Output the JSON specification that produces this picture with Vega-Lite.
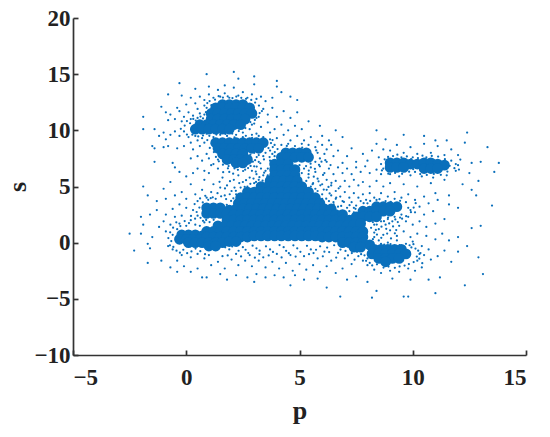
{"$schema":"https://vega.github.io/schema/vega-lite/v6.json","width":453,"height":337,"autosize":{"type":"none"},"padding":{"left":73,"top":18,"right":24,"bottom":82},"background":"white","config":{"view":{"stroke":null}},
"datasets":{"core":[
{"p":1.6,"s":12.3},{"p":1.9,"s":12.3},{"p":2.2,"s":12.3},{"p":2.5,"s":12.3},
{"p":1.3,"s":12},{"p":1.6,"s":12},{"p":1.9,"s":12},{"p":2.2,"s":12},{"p":2.5,"s":12},{"p":2.8,"s":12},
{"p":1.1,"s":11.5},{"p":1.4,"s":11.5},{"p":1.7,"s":11.5},{"p":2,"s":11.5},{"p":2.3,"s":11.5},{"p":2.6,"s":11.5},{"p":2.9,"s":11.5},
{"p":1.1,"s":11},{"p":1.4,"s":11},{"p":1.7,"s":11},{"p":2,"s":11},{"p":2.3,"s":11},{"p":2.6,"s":11},
{"p":0.6,"s":10.5},{"p":0.9,"s":10.5},{"p":1.2,"s":10.5},{"p":1.5,"s":10.5},{"p":1.8,"s":10.5},{"p":2.1,"s":10.5},{"p":2.4,"s":10.5},
{"p":0.4,"s":10.1},{"p":0.7,"s":10.1},{"p":1,"s":10.1},{"p":1.3,"s":10.1},{"p":1.6,"s":10.1},{"p":1.9,"s":10.1},
{"p":1.3,"s":8.9},{"p":1.6,"s":8.9},{"p":1.9,"s":8.9},{"p":2.2,"s":8.9},{"p":2.5,"s":8.9},{"p":2.8,"s":8.9},{"p":3.1,"s":8.9},{"p":3.4,"s":8.9},
{"p":1.4,"s":8.4},{"p":1.7,"s":8.4},{"p":2,"s":8.4},{"p":2.3,"s":8.4},{"p":2.6,"s":8.4},{"p":2.9,"s":8.4},{"p":3.2,"s":8.4},
{"p":1.6,"s":7.9},{"p":1.9,"s":7.9},{"p":2.2,"s":7.9},{"p":2.5,"s":7.9},
{"p":1.8,"s":7.4},{"p":2.1,"s":7.4},{"p":2.4,"s":7.4},{"p":2.7,"s":7.4},{"p":2.2,"s":7.1},{"p":2.5,"s":7.1},
{"p":4.4,"s":8},{"p":4.7,"s":8},{"p":5,"s":8},{"p":5.3,"s":8},{"p":4.2,"s":7.6},{"p":4.5,"s":7.6},{"p":4.8,"s":7.6},{"p":5.1,"s":7.6},{"p":5.4,"s":7.6},
{"p":9,"s":7.1},{"p":9.3,"s":7.1},{"p":9.6,"s":7.1},{"p":9.9,"s":7},{"p":10.2,"s":7},{"p":10.5,"s":7.1},{"p":10.8,"s":7.1},{"p":11.1,"s":7},{"p":11.4,"s":6.9},
{"p":9,"s":6.7},{"p":9.3,"s":6.7},{"p":9.6,"s":6.7},{"p":10.5,"s":6.6},{"p":10.8,"s":6.6},{"p":11.1,"s":6.6},
{"p":3.9,"s":7},{"p":4.2,"s":7},{"p":4.5,"s":7},
{"p":3.9,"s":6.5},{"p":4.2,"s":6.5},{"p":4.5,"s":6.5},{"p":4.8,"s":6.5},
{"p":3.9,"s":6},{"p":4.2,"s":6},{"p":4.5,"s":6},{"p":4.8,"s":6},
{"p":3.7,"s":5.5},{"p":4,"s":5.5},{"p":4.3,"s":5.5},{"p":4.6,"s":5.5},{"p":4.9,"s":5.5},
{"p":3.3,"s":5},{"p":3.6,"s":5},{"p":3.9,"s":5},{"p":4.2,"s":5},{"p":4.5,"s":5},{"p":4.8,"s":5},{"p":5.1,"s":5},
{"p":2.7,"s":4.5},{"p":3,"s":4.5},{"p":3.3,"s":4.5},{"p":3.6,"s":4.5},{"p":3.9,"s":4.5},{"p":4.2,"s":4.5},{"p":4.5,"s":4.5},{"p":4.8,"s":4.5},{"p":5.1,"s":4.5},{"p":5.4,"s":4.5},
{"p":2.4,"s":4},{"p":2.7,"s":4},{"p":3,"s":4},{"p":3.3,"s":4},{"p":3.6,"s":4},{"p":3.9,"s":4},{"p":4.2,"s":4},{"p":4.5,"s":4},{"p":4.8,"s":4},{"p":5.1,"s":4},{"p":5.4,"s":4},{"p":5.7,"s":4},
{"p":2.3,"s":3.5},{"p":2.6,"s":3.5},{"p":2.9,"s":3.5},{"p":3.2,"s":3.5},{"p":3.5,"s":3.5},{"p":3.8,"s":3.5},{"p":4.1,"s":3.5},{"p":4.4,"s":3.5},{"p":4.7,"s":3.5},{"p":5,"s":3.5},{"p":5.3,"s":3.5},{"p":5.6,"s":3.5},{"p":5.9,"s":3.5},
{"p":0.9,"s":3.1},{"p":1.2,"s":3.1},{"p":1.5,"s":3.1},{"p":1.9,"s":2.9},{"p":2.2,"s":3},{"p":2.5,"s":3},{"p":2.8,"s":3},{"p":3.1,"s":3},{"p":3.4,"s":3},{"p":3.7,"s":3},{"p":4,"s":3},{"p":4.3,"s":3},{"p":4.6,"s":3},{"p":4.9,"s":3},{"p":5.2,"s":3},{"p":5.5,"s":3},{"p":5.8,"s":3},{"p":6.1,"s":3},{"p":6.4,"s":3},{"p":8.4,"s":3.2},{"p":8.7,"s":3.2},{"p":9,"s":3.2},{"p":9.3,"s":3.2},
{"p":0.9,"s":2.6},{"p":1.2,"s":2.6},{"p":1.5,"s":2.6},{"p":1.8,"s":2.6},{"p":2.1,"s":2.5},{"p":2.4,"s":2.5},{"p":2.7,"s":2.5},{"p":3,"s":2.5},{"p":3.3,"s":2.5},{"p":3.6,"s":2.5},{"p":3.9,"s":2.5},{"p":4.2,"s":2.5},{"p":4.5,"s":2.5},{"p":4.8,"s":2.5},{"p":5.1,"s":2.5},{"p":5.4,"s":2.5},{"p":5.7,"s":2.5},{"p":6,"s":2.5},{"p":6.3,"s":2.5},{"p":6.6,"s":2.5},{"p":6.9,"s":2.5},{"p":7.8,"s":2.8},{"p":8.1,"s":2.8},{"p":8.4,"s":2.8},{"p":8.7,"s":2.8},{"p":9,"s":2.8},
{"p":1.8,"s":2},{"p":2.1,"s":2},{"p":2.4,"s":2},{"p":2.7,"s":2},{"p":3,"s":2},{"p":3.3,"s":2},{"p":3.6,"s":2},{"p":3.9,"s":2},{"p":4.2,"s":2},{"p":4.5,"s":2},{"p":4.8,"s":2},{"p":5.1,"s":2},{"p":5.4,"s":2},{"p":5.7,"s":2},{"p":6,"s":2},{"p":6.3,"s":2},{"p":6.6,"s":2},{"p":6.9,"s":2},{"p":7.2,"s":2},{"p":7.5,"s":2.3},{"p":7.8,"s":2.3},{"p":8.1,"s":2.3},{"p":8.4,"s":2.3},
{"p":1.4,"s":1.5},{"p":1.7,"s":1.5},{"p":2,"s":1.5},{"p":2.3,"s":1.5},{"p":2.6,"s":1.5},{"p":2.9,"s":1.5},{"p":3.2,"s":1.5},{"p":3.5,"s":1.5},{"p":3.8,"s":1.5},{"p":4.1,"s":1.5},{"p":4.4,"s":1.5},{"p":4.7,"s":1.5},{"p":5,"s":1.5},{"p":5.3,"s":1.5},{"p":5.6,"s":1.5},{"p":5.9,"s":1.5},{"p":6.2,"s":1.5},{"p":6.5,"s":1.5},{"p":6.8,"s":1.5},{"p":7.1,"s":1.5},{"p":7.4,"s":1.6},{"p":7.7,"s":1.7},
{"p":0.9,"s":1},{"p":1.2,"s":1},{"p":1.5,"s":1},{"p":1.8,"s":1},{"p":2.1,"s":1},{"p":2.4,"s":1},{"p":2.7,"s":1},{"p":3,"s":1},{"p":3.3,"s":1},{"p":3.6,"s":1},{"p":3.9,"s":1},{"p":4.2,"s":1},{"p":4.5,"s":1},{"p":4.8,"s":1},{"p":5.1,"s":1},{"p":5.4,"s":1},{"p":5.7,"s":1},{"p":6,"s":1},{"p":6.3,"s":1},{"p":6.6,"s":1},{"p":6.9,"s":1},{"p":7.2,"s":1},{"p":7.5,"s":1},{"p":7.8,"s":1},
{"p":-0.2,"s":0.7},{"p":0.1,"s":0.7},{"p":0.4,"s":0.7},{"p":0.7,"s":0.6},
{"p":-0.3,"s":0.3},{"p":0,"s":0.3},{"p":0.3,"s":0.3},{"p":0.6,"s":0.3},{"p":0.9,"s":0.5},{"p":1.2,"s":0.5},{"p":1.5,"s":0.5},{"p":1.8,"s":0.5},{"p":2.1,"s":0.5},{"p":2.4,"s":0.5},{"p":2.7,"s":0.5},{"p":3,"s":0.6},{"p":3.3,"s":0.6},{"p":3.6,"s":0.6},{"p":3.9,"s":0.6},{"p":4.2,"s":0.6},{"p":4.5,"s":0.6},{"p":4.8,"s":0.6},{"p":5.1,"s":0.6},{"p":5.4,"s":0.6},{"p":5.7,"s":0.6},{"p":6,"s":0.5},{"p":6.3,"s":0.5},{"p":6.6,"s":0.5},{"p":6.9,"s":0.5},{"p":7.2,"s":0.5},{"p":7.5,"s":0.5},{"p":7.8,"s":0.5},
{"p":0.1,"s":0},{"p":0.4,"s":0},{"p":0.7,"s":0},{"p":1,"s":0},{"p":1.3,"s":0},{"p":1.6,"s":0},{"p":1.9,"s":0.1},{"p":2.2,"s":0.1},{"p":6.9,"s":0},{"p":7.2,"s":0},{"p":7.5,"s":0},{"p":7.8,"s":0},{"p":8.1,"s":-0.2},
{"p":1,"s":-0.3},{"p":1.3,"s":-0.3},{"p":7.4,"s":-0.4},{"p":7.7,"s":-0.4},{"p":8.3,"s":-0.6},{"p":8.6,"s":-0.6},{"p":8.9,"s":-0.6},{"p":9.2,"s":-0.6},{"p":9.5,"s":-0.6},
{"p":8.2,"s":-1},{"p":8.5,"s":-1},{"p":8.8,"s":-1},{"p":9.1,"s":-1},{"p":9.4,"s":-1},{"p":9.7,"s":-1},{"p":8.5,"s":-1.4},{"p":8.8,"s":-1.4},{"p":9.1,"s":-1.4},{"p":9.4,"s":-1.4},{"p":8.8,"s":-1.7}
],"scatter":[
{"p":-1.9,"s":11.2},{"p":-1.9,"s":10.1},{"p":-1.4,"s":10.1},{"p":-1.1,"s":12.1},{"p":-0.9,"s":11.6},{"p":-0.8,"s":10.9},{"p":-0.7,"s":11.4},{"p":-0.5,"s":11},{"p":-0.4,"s":12},{"p":-0.3,"s":11.7},{"p":-0.2,"s":10.8},{"p":-0.1,"s":11.2},{"p":0,"s":12.3},{"p":0.1,"s":11.6},{"p":0.2,"s":12.9},{"p":0.3,"s":11.3},{"p":0.4,"s":12.4},{"p":0.5,"s":11.9},{"p":0.6,"s":13},{"p":0.6,"s":11.5},
{"p":-1.2,"s":9.5},{"p":-1,"s":9.8},{"p":-0.9,"s":9.2},{"p":-0.7,"s":9.6},{"p":-0.5,"s":9.9},{"p":-0.3,"s":9.5},{"p":-0.1,"s":9.9},{"p":0.1,"s":9.4},{"p":0.2,"s":8.9},{"p":0.4,"s":9.5},{"p":0.5,"s":9.1},{"p":0.7,"s":9.3},{"p":-1.5,"s":8.6},{"p":-1.4,"s":8.4},{"p":-1,"s":8.5},{"p":-0.8,"s":8.6},{"p":-0.4,"s":8.4},{"p":-0.1,"s":8.6},{"p":0.3,"s":8.3},{"p":0.6,"s":8.6},{"p":0.8,"s":8.9},{"p":-1.4,"s":7.2},{"p":-0.6,"s":7.1},{"p":-0.5,"s":6.7},{"p":0.2,"s":7.5},{"p":0.5,"s":7.7},{"p":0.7,"s":7.3},{"p":0.9,"s":7.9},{"p":1,"s":7.5},{"p":1.1,"s":6.9},
{"p":0.8,"s":12.7},{"p":1,"s":13.2},{"p":1.2,"s":12.9},{"p":1.4,"s":13.6},{"p":1.5,"s":13},{"p":1.7,"s":13.3},{"p":1.9,"s":12.9},{"p":2.1,"s":13.8},{"p":2.3,"s":13.1},{"p":2.5,"s":13.4},{"p":2.7,"s":12.9},{"p":2.9,"s":13.2},{"p":3.1,"s":12.8},{"p":3.3,"s":13},{"p":3.5,"s":12.6},{"p":3.8,"s":12.9},{"p":4.2,"s":13.4},{"p":4.6,"s":13},{"p":4.9,"s":12.7},{"p":0.4,"s":13.7},{"p":0.9,"s":15},{"p":1,"s":13.9},{"p":1.7,"s":14},{"p":2.1,"s":15.2},{"p":2.3,"s":14.6},{"p":3,"s":14.8},{"p":3,"s":14.1},{"p":4,"s":14.4},{"p":4,"s":13.9},{"p":-0.3,"s":14.2},{"p":-0.8,"s":13.2},{"p":-0.2,"s":13.1},
{"p":3.2,"s":11.2},{"p":3.4,"s":11.9},{"p":3.6,"s":11.4},{"p":3.8,"s":12},{"p":4,"s":11.2},{"p":4.3,"s":11.7},{"p":4.6,"s":11.1},{"p":4.9,"s":11.6},{"p":3,"s":10.6},{"p":3.3,"s":10.3},{"p":3.6,"s":10.7},{"p":3.9,"s":10.1},{"p":4.2,"s":10.5},{"p":4.5,"s":10},{"p":4.8,"s":10.4},{"p":5.1,"s":10.1},{"p":5.4,"s":10.8},{"p":2.8,"s":10.1},{"p":2.5,"s":9.8},{"p":3.1,"s":9.7},{"p":3.4,"s":9.4},{"p":3.7,"s":9.8},{"p":4,"s":9.3},{"p":4.3,"s":9.6},{"p":4.6,"s":9.1},{"p":4.9,"s":9.5},{"p":5.2,"s":9.1},{"p":5.5,"s":9.4},{"p":5.8,"s":9},{"p":6,"s":9.5},{"p":6.3,"s":9.1},{"p":6.6,"s":10},{"p":5.9,"s":10.4},{"p":6.9,"s":9.4},{"p":3.9,"s":8.7},{"p":4.2,"s":8.7},{"p":4.5,"s":8.8},{"p":4.8,"s":8.6},{"p":5.1,"s":8.8},{"p":5.4,"s":8.7},{"p":5.7,"s":8.5},{"p":6,"s":8.7},{"p":6.2,"s":8.3},{"p":6.4,"s":8.7},
{"p":5.9,"s":7.5},{"p":6.1,"s":7.9},{"p":6.2,"s":7.2},{"p":6.5,"s":7.7},{"p":6.7,"s":8.2},{"p":6.9,"s":7.1},{"p":7.1,"s":7.7},{"p":7.3,"s":8.4},{"p":7.5,"s":7.2},{"p":7.8,"s":7.9},{"p":8,"s":7.3},{"p":8.2,"s":8.2},{"p":8.5,"s":7.6},{"p":8.7,"s":8.3},{"p":5.5,"s":6.7},{"p":5.7,"s":6.3},{"p":5.9,"s":6.8},{"p":6.1,"s":6.2},{"p":6.3,"s":6.6},{"p":6.5,"s":6.1},{"p":6.7,"s":6.7},{"p":6.9,"s":6.2},{"p":7.1,"s":6.6},{"p":7.3,"s":6.1},{"p":7.5,"s":6.7},{"p":7.7,"s":6.3},{"p":7.9,"s":6.8},{"p":8.1,"s":6.2},{"p":8.4,"s":6.5},{"p":8.6,"s":6.1},{"p":5.4,"s":5.8},{"p":5.6,"s":5.3},{"p":5.8,"s":5.7},{"p":6,"s":5.2},{"p":6.2,"s":5.6},{"p":6.4,"s":5.1},{"p":6.6,"s":5.5},{"p":6.8,"s":5},{"p":7,"s":5.5},{"p":7.2,"s":5},{"p":7.4,"s":5.6},{"p":7.6,"s":5.1},{"p":7.8,"s":5.4},{"p":8.1,"s":5},{"p":8.4,"s":5.5},{"p":8.7,"s":5},{"p":9,"s":5.3},{"p":5.8,"s":4.6},{"p":6,"s":4.3},{"p":6.2,"s":4.7},{"p":6.4,"s":4.2},{"p":6.6,"s":4.6},{"p":6.8,"s":4.1},{"p":7,"s":4.5},{"p":7.2,"s":4},{"p":7.4,"s":4.4},{"p":7.6,"s":4},{"p":7.8,"s":4.3},{"p":8.1,"s":4.4},{"p":8.3,"s":4},{"p":8.6,"s":4.4},{"p":8.9,"s":4.1},{"p":9.2,"s":4.5},{"p":9.5,"s":4},{"p":9.8,"s":4.3},{"p":6.5,"s":3.6},{"p":6.7,"s":3.2},{"p":6.9,"s":3.7},{"p":7.1,"s":3.1},{"p":7.3,"s":3.6},{"p":7.5,"s":3.3},{"p":7.7,"s":3.7},{"p":8,"s":3.5},
{"p":8.4,"s":8.8},{"p":9,"s":8.2},{"p":9.3,"s":8.7},{"p":9.6,"s":8},{"p":9.9,"s":8.5},{"p":10.2,"s":7.9},{"p":10.5,"s":8.8},{"p":10.8,"s":8},{"p":11.1,"s":8.6},{"p":11.4,"s":7.8},{"p":11.7,"s":8.3},{"p":12,"s":7.8},{"p":12.3,"s":8.9},{"p":9.6,"s":9.6},{"p":10.5,"s":9.5},{"p":11,"s":9.1},{"p":8.4,"s":10},{"p":8.8,"s":9.2},{"p":12.4,"s":9.8},{"p":11.5,"s":9.1},{"p":13.3,"s":8.5},{"p":12.1,"s":7.4},{"p":12.6,"s":7.1},{"p":13,"s":7.2},{"p":13.8,"s":7.1},{"p":13.6,"s":6.3},{"p":12.5,"s":6.2},{"p":11.9,"s":6.4},{"p":11.5,"s":6},{"p":10.9,"s":5.8},{"p":10.4,"s":5.9},{"p":9.9,"s":6},{"p":9.4,"s":5.9},{"p":9,"s":6.1},{"p":9.6,"s":5.2},{"p":10.2,"s":5},{"p":10.8,"s":5.3},{"p":11.4,"s":5.6},{"p":12.2,"s":5.2},{"p":12.9,"s":5.5},{"p":12.6,"s":4.7},{"p":12.8,"s":4.2},{"p":13.5,"s":3.3},{"p":11.6,"s":4.2},{"p":11,"s":4.4},{"p":10.5,"s":4.1},{"p":10.1,"s":3.8},{"p":10.3,"s":3.2},{"p":10.7,"s":3.5},{"p":11.1,"s":3.8},{"p":11.6,"s":3.4},{"p":12,"s":3.1},{"p":10.9,"s":2.8},{"p":10.5,"s":2.5},{"p":10.1,"s":2.7},{"p":9.8,"s":2.3},{"p":9.5,"s":2.5},{"p":9.2,"s":2.3},{"p":8.9,"s":2.1},{"p":8.6,"s":1.9},{"p":8.3,"s":1.6},{"p":8.5,"s":1.2},{"p":8.8,"s":1.6},{"p":9.1,"s":1.9},{"p":9.4,"s":1.5},{"p":9.7,"s":1.9},{"p":10,"s":1.6},{"p":10.3,"s":1.9},{"p":10.6,"s":1.4},{"p":11,"s":1.7},{"p":11.4,"s":2.1},{"p":8.3,"s":0.9},{"p":8.7,"s":0.7},{"p":9,"s":1.1},{"p":9.3,"s":0.6},{"p":9.6,"s":1},{"p":9.9,"s":0.5},{"p":10.2,"s":0.8},{"p":10.6,"s":0.6},{"p":11,"s":0.3},{"p":11.3,"s":0.8},{"p":11.6,"s":0.2},{"p":12,"s":0.5},{"p":12.6,"s":1.3},{"p":13,"s":1.5},{"p":8.5,"s":0.2},{"p":8.9,"s":0},{"p":9.3,"s":0.2},{"p":9.7,"s":-0.1},{"p":10,"s":0.1},{"p":10.4,"s":-0.3},{"p":10.7,"s":-0.6},{"p":10.5,"s":-1.1},{"p":10.8,"s":-1.5},{"p":11.1,"s":-1.2},{"p":11.4,"s":-0.7},{"p":11.7,"s":-1.7},{"p":12,"s":-0.8},{"p":12.4,"s":-0.3},{"p":12.9,"s":-1.3},{"p":13.1,"s":-2.8},{"p":11.2,"s":-3.1},{"p":12.3,"s":-3.8},{"p":10.4,"s":-2.2},{"p":10.1,"s":-2.5},{"p":9.8,"s":-2.3},{"p":9.4,"s":-2.6},{"p":9,"s":-2.5},{"p":8.6,"s":-2.7},{"p":8.3,"s":-2.4},{"p":8,"s":-2},{"p":7.8,"s":-1.6},{"p":7.6,"s":-1.2},{"p":7.3,"s":-1.9},{"p":7,"s":-1.4},{"p":6.7,"s":-0.9},{"p":6.4,"s":-1.6},{"p":6.1,"s":-0.8},{"p":5.8,"s":-1.4},{"p":5.5,"s":-0.6},{"p":5.2,"s":-1.2},{"p":4.9,"s":-0.5},{"p":4.6,"s":-1.1},{"p":4.3,"s":-0.4},{"p":4,"s":-1},{"p":3.7,"s":-0.6},{"p":3.4,"s":-1.3},{"p":3.1,"s":-0.5},{"p":2.8,"s":-1.1},{"p":2.5,"s":-0.4},{"p":2.2,"s":-1},{"p":1.9,"s":-0.6},{"p":1.6,"s":-1.2},{"p":6.9,"s":-2.3},{"p":6.6,"s":-2.7},{"p":6.2,"s":-2.1},{"p":5.9,"s":-2.6},{"p":5.6,"s":-2},{"p":5.3,"s":-2.4},{"p":5,"s":-1.9},{"p":4.7,"s":-2.5},{"p":4.4,"s":-1.8},{"p":4.1,"s":-2.3},{"p":3.8,"s":-1.7},{"p":3.5,"s":-2.2},{"p":3.2,"s":-1.6},{"p":2.9,"s":-2.1},{"p":2.6,"s":-1.6},{"p":2.3,"s":-2},{"p":2,"s":-1.5},{"p":1.7,"s":-2.3},{"p":1.4,"s":-1.7},{"p":1.1,"s":-2},{"p":0.8,"s":-1.4},{"p":0.5,"s":-2.3},{"p":0.2,"s":-1.3},{"p":-0.1,"s":-2.1},{"p":-0.4,"s":-1.6},{"p":-0.7,"s":-2.2},{"p":-0.2,"s":-1.1},{"p":0.5,"s":-1},{"p":1,"s":-1.1},
{"p":7.5,"s":-3},{"p":7.1,"s":-3.3},{"p":6.8,"s":-4.8},{"p":8.2,"s":-4.9},{"p":8.4,"s":-4.3},{"p":9.6,"s":-4.8},{"p":9.8,"s":-4.8},{"p":11,"s":-4.5},{"p":9.1,"s":-3.2},{"p":8,"s":-3.5},{"p":6.2,"s":-4},{"p":5.8,"s":-3.2},{"p":5.2,"s":-3.3},{"p":4.8,"s":-2.9},{"p":4.3,"s":-3.1},{"p":3.9,"s":-2.9},{"p":3.5,"s":-3.1},{"p":3.1,"s":-2.8},{"p":2.7,"s":-3.1},{"p":2.2,"s":-2.9},{"p":1.8,"s":-3.3},{"p":1.5,"s":-2.8},{"p":0.7,"s":-3.1},{"p":0.9,"s":-3.1},{"p":0.2,"s":-2.6},{"p":-0.4,"s":-2.6},{"p":4.6,"s":-3.8},{"p":3,"s":-3.5},{"p":9.9,"s":-3.3},{"p":10.7,"s":-3.3},
{"p":-2.5,"s":0.8},{"p":-2.3,"s":-0.7},{"p":-2,"s":2.3},{"p":-1.9,"s":1.6},{"p":-2,"s":0.8},{"p":-1.6,"s":2.5},{"p":-1.7,"s":-0.1},{"p":-1.6,"s":-0.5},{"p":-1.7,"s":-1.8},{"p":-1.5,"s":0.5},{"p":-1.3,"s":2.9},{"p":-1.2,"s":1.4},{"p":-1.1,"s":-1.6},{"p":-1,"s":1.9},{"p":-0.9,"s":1},{"p":-0.8,"s":-0.3},{"p":-0.9,"s":2.5},{"p":-0.7,"s":1.6},{"p":-0.6,"s":0.7},{"p":-0.6,"s":-0.6},{"p":-0.5,"s":2.3},{"p":-0.4,"s":1.2},{"p":-0.3,"s":1.7},{"p":-0.2,"s":2.4},{"p":0,"s":1.5},{"p":0.2,"s":2},{"p":0.4,"s":1.6},{"p":0.5,"s":2.4},{"p":0.6,"s":1.5},{"p":0.8,"s":1.8},{"p":0.3,"s":2.9},{"p":0,"s":3.1},{"p":-0.3,"s":3.4},{"p":-0.6,"s":3},{"p":-0.9,"s":3.9},{"p":-1.3,"s":3.7},{"p":-1.7,"s":4.2},{"p":-1.9,"s":5},{"p":-1,"s":4.8},{"p":-0.7,"s":5.4},{"p":-0.5,"s":4.2},{"p":-0.2,"s":4.5},{"p":0,"s":3.9},{"p":0.2,"s":5.2},{"p":0.4,"s":4.3},{"p":0.5,"s":3.7},{"p":0.7,"s":4.7},{"p":0.8,"s":5.6},{"p":0.9,"s":4},{"p":1,"s":6.2},{"p":1.1,"s":4.5},{"p":1.2,"s":5.2},{"p":1.3,"s":3.9},{"p":1.4,"s":6.6},{"p":1.5,"s":4.9},{"p":1.6,"s":5.8},{"p":1.7,"s":4.2},{"p":1.8,"s":5.1},{"p":1.9,"s":6.3},{"p":2,"s":4.6},{"p":2.1,"s":5.6},{"p":2.2,"s":4.3},{"p":2.3,"s":6},{"p":2.4,"s":4.9},{"p":2.5,"s":5.4},{"p":2.6,"s":6.5},{"p":2.7,"s":5},{"p":2.8,"s":5.8},{"p":2.9,"s":6.4},{"p":3,"s":5.3},{"p":3.1,"s":6.1},{"p":3.2,"s":5.6},{"p":3.3,"s":6.6},{"p":3.4,"s":6},{"p":3.5,"s":6.4},{"p":3.6,"s":6},{"p":3.2,"s":7.2},{"p":3.4,"s":7.7},{"p":3.7,"s":7.3},{"p":3.9,"s":7.7},{"p":3,"s":6.8},{"p":0.3,"s":6.2},{"p":0,"s":5.9},{"p":-0.3,"s":6.3},{"p":0.5,"s":6.6},{"p":0.8,"s":6.4},{"p":1.2,"s":7},{"p":1.4,"s":7.4},
{"p":0.9,"s":9.7},{"p":1.2,"s":9.4},{"p":1.5,"s":9.6},{"p":1.8,"s":9.5},{"p":2.2,"s":9.6},{"p":2.5,"s":9.4},{"p":2.9,"s":9.6},{"p":3.2,"s":9.5},{"p":3.7,"s":9.2},{"p":2.9,"s":10.5},{"p":3.1,"s":11.1},{"p":0.2,"s":11},{"p":0.5,"s":11.1},{"p":0.8,"s":11.4},{"p":0.9,"s":12},{"p":0.8,"s":12.2},{"p":3,"s":8},{"p":3.2,"s":7.8},{"p":3.5,"s":8},{"p":3.7,"s":8.2},{"p":3.8,"s":7.9},{"p":5.7,"s":7.2},{"p":5.8,"s":8},{"p":3.6,"s":6.6},{"p":5,"s":6.9},{"p":5.2,"s":6.6},{"p":5.1,"s":6.2},{"p":5.4,"s":6.1},{"p":5.3,"s":5.5},{"p":5.5,"s":5},{"p":5.7,"s":4.8},{"p":6,"s":3.9},{"p":6.3,"s":3.7},{"p":6.6,"s":3.9},{"p":9.8,"s":3.1},{"p":9.9,"s":2.9},{"p":9.7,"s":3.6},{"p":9.2,"s":3.9},{"p":8.8,"s":3.7},{"p":8.4,"s":3.8},{"p":7.4,"s":3.1},{"p":7.2,"s":2.8},{"p":7.4,"s":2.7},{"p":8.3,"s":0.5},{"p":8.6,"s":-0.1},{"p":10.3,"s":-1},{"p":10.2,"s":-1.6},{"p":8,"s":-1.4},{"p":8.1,"s":-1.8},{"p":10.1,"s":6.3},{"p":8.7,"s":6.6},{"p":8.6,"s":7},{"p":12,"s":6.9},{"p":11.9,"s":7},{"p":11.7,"s":7.3},{"p":10,"s":7.6},{"p":10.6,"s":7.6},{"p":9.5,"s":7.6},
{"p":5.63,"s":5.87},{"p":5.41,"s":6.42},{"p":5.92,"s":5.11},{"p":6.07,"s":4.73},{"p":6.33,"s":4.38},{"p":5.77,"s":4.21},{"p":6.18,"s":3.92},{"p":6.51,"s":3.41},{"p":6.84,"s":3.27},{"p":6.62,"s":4.02},{"p":6.96,"s":3.63},{"p":7.21,"s":3.34},{"p":7.47,"s":3.01},{"p":5.58,"s":5.21},{"p":5.84,"s":5.46},{"p":5.29,"s":6.82},{"p":5.68,"s":6.57},{"p":6.04,"s":6.03},{"p":6.41,"s":5.33},{"p":6.73,"s":4.84},{"p":6.28,"s":4.96},{"p":5.49,"s":7.03},{"p":5.86,"s":6.93},{"p":6.14,"s":7.34},{"p":6.37,"s":6.91},{"p":5.97,"s":7.21},{"p":5.74,"s":8.21},{"p":5.12,"s":8.47},{"p":4.44,"s":8.61},{"p":4.03,"s":8.33},{"p":3.91,"s":8.07},{"p":3.82,"s":8.51},{"p":3.68,"s":7.62},{"p":3.43,"s":7.41},{"p":3.27,"s":7.07},{"p":3.11,"s":6.77},{"p":2.94,"s":7.21},{"p":2.73,"s":6.64},{"p":2.51,"s":6.38},{"p":2.28,"s":6.49},{"p":2.07,"s":6.14},{"p":1.84,"s":6.62},{"p":1.63,"s":6.27},{"p":1.47,"s":5.42},{"p":1.71,"s":4.83},{"p":1.93,"s":5.47},{"p":2.13,"s":4.91},{"p":2.34,"s":5.31},{"p":2.58,"s":4.97},{"p":2.64,"s":5.56},{"p":2.83,"s":5.24},{"p":2.97,"s":5.71},{"p":3.08,"s":5.41},{"p":3.23,"s":5.83},{"p":3.37,"s":5.52},{"p":3.44,"s":6.23},{"p":3.58,"s":5.87},{"p":3.07,"s":6.33},{"p":1.17,"s":4.04},{"p":1.38,"s":4.41},{"p":1.54,"s":4.13},{"p":1.76,"s":3.88},{"p":1.92,"s":4.31},{"p":2.08,"s":3.95},{"p":2.19,"s":4.62},{"p":1.98,"s":3.71},{"p":0.61,"s":3.94},{"p":0.73,"s":3.58},{"p":0.84,"s":4.17},{"p":0.97,"s":3.81},{"p":1.08,"s":3.96},{"p":1.79,"s":3.37},{"p":1.94,"s":3.23},{"p":2.02,"s":2.94},{"p":0.37,"s":3.44},{"p":0.46,"s":2.73},{"p":0.58,"s":3.12},{"p":0.21,"s":2.38},{"p":0.39,"s":2.14},{"p":0.63,"s":2.21},{"p":0.74,"s":1.94},{"p":0.88,"s":2.02},{"p":1.03,"s":1.83},{"p":1.21,"s":2.03},{"p":0.12,"s":1.74},{"p":-0.07,"s":1.92},{"p":-0.26,"s":1.48},{"p":-0.44,"s":1.81},{"p":-0.58,"s":1.33},{"p":-0.71,"s":0.92},{"p":-0.79,"s":0.41},{"p":-0.66,"s":0.14},{"p":-0.72,"s":-0.24},{"p":-0.57,"s":-0.38},{"p":-0.43,"s":-0.71},{"p":-0.28,"s":-0.89},{"p":-0.13,"s":-0.63},{"p":0.04,"s":-0.94},{"p":0.23,"s":-0.78},{"p":0.41,"s":-0.53},{"p":0.62,"s":-0.76},{"p":0.83,"s":-1.03},
{"p":1.72,"s":-0.41},{"p":2.03,"s":-0.34},{"p":2.31,"s":-0.72},{"p":2.62,"s":-0.63},{"p":2.93,"s":-0.27},{"p":3.24,"s":-0.71},{"p":3.52,"s":-0.33},{"p":3.83,"s":-0.82},{"p":4.12,"s":-0.21},{"p":4.41,"s":-0.73},{"p":4.73,"s":-0.24},{"p":5.04,"s":-0.81},{"p":5.33,"s":-0.28},{"p":5.62,"s":-0.93},{"p":5.91,"s":-0.32},{"p":6.22,"s":-0.44},{"p":6.53,"s":-0.23},{"p":6.81,"s":-0.61},{"p":7.03,"s":-0.74},{"p":7.31,"s":-0.93},{"p":7.54,"s":-0.81},{"p":7.72,"s":-1.03},{"p":1.83,"s":-1.14},{"p":2.42,"s":-1.23},{"p":2.74,"s":-0.92},{"p":3.03,"s":-1.34},{"p":3.64,"s":-1.14},{"p":4.21,"s":-1.31},{"p":4.83,"s":-1.24},{"p":5.42,"s":-1.03},{"p":6.03,"s":-1.21},{"p":6.62,"s":-1.33},{"p":7.14,"s":-1.14},{"p":7.43,"s":-1.52},{"p":3.23,"s":-1.01},{"p":4.53,"s":-0.94},{"p":5.73,"s":-0.63},{"p":6.31,"s":-0.84},
{"p":8.02,"s":2.04},{"p":8.24,"s":1.83},{"p":8.41,"s":1.61},{"p":8.16,"s":1.32},{"p":8.37,"s":1.13},{"p":8.62,"s":1.42},{"p":8.83,"s":1.23},{"p":8.96,"s":1.71},{"p":9.13,"s":1.44},{"p":9.27,"s":1.12},{"p":9.34,"s":1.83},{"p":8.42,"s":0.72},{"p":8.61,"s":0.43},{"p":8.87,"s":0.81},{"p":9.04,"s":0.38},{"p":9.21,"s":0.83},{"p":8.24,"s":0.31},{"p":8.73,"s":1.91},{"p":9.53,"s":2.14},{"p":9.71,"s":2.36},{"p":9.23,"s":2.07},{"p":8.91,"s":2.24},{"p":9.44,"s":2.23},{"p":9.92,"s":2.71},{"p":10.04,"s":3.12},{"p":10.13,"s":3.51},{"p":7.83,"s":3.52},{"p":8.12,"s":3.71},{"p":7.94,"s":3.81},{"p":8.53,"s":3.87},{"p":9.03,"s":3.63},{"p":9.44,"s":3.73},
{"p":9.86,"s":-0.23},{"p":9.94,"s":-0.42},{"p":10.12,"s":-0.53},{"p":10.24,"s":-0.71},{"p":10.34,"s":-0.92},{"p":10.18,"s":-1.24},{"p":10.29,"s":-1.43},{"p":10.04,"s":-1.73},{"p":9.83,"s":-1.91},{"p":9.64,"s":-2.04},{"p":9.42,"s":-2.12},{"p":9.21,"s":-2.24},{"p":8.93,"s":-2.13},{"p":8.71,"s":-2.22},{"p":8.42,"s":-1.93},{"p":8.21,"s":-2.03},{"p":7.94,"s":-1.62},{"p":7.87,"s":-1.13},{"p":9.02,"s":-0.14},{"p":9.42,"s":-0.21},{"p":8.74,"s":-0.18},{"p":10.03,"s":-0.13},{"p":10.42,"s":-1.83},
{"p":8.76,"s":7.42},{"p":8.91,"s":7.63},{"p":9.13,"s":7.71},{"p":9.32,"s":7.83},{"p":9.74,"s":7.68},{"p":9.93,"s":7.44},{"p":10.23,"s":7.53},{"p":10.43,"s":7.74},{"p":10.84,"s":7.72},{"p":11.12,"s":7.66},{"p":11.42,"s":7.43},{"p":11.63,"s":6.84},{"p":11.84,"s":6.63},{"p":12.04,"s":6.51},{"p":8.64,"s":6.43},{"p":8.92,"s":6.14},{"p":9.22,"s":6.21},{"p":9.53,"s":6.13},{"p":9.84,"s":6.32},{"p":10.02,"s":6.54},{"p":10.33,"s":6.11},{"p":10.62,"s":6.03},{"p":10.93,"s":6.12},{"p":11.24,"s":6.04},{"p":11.53,"s":6.33},
{"p":-0.07,"s":10.42},{"p":-0.24,"s":10.14},{"p":0.03,"s":10.83},{"p":0.17,"s":10.63},{"p":0.31,"s":11.02},{"p":0.42,"s":10.87},{"p":0.63,"s":11.23},{"p":0.74,"s":11.06},{"p":0.87,"s":11.62},{"p":0.93,"s":12.43},{"p":1.03,"s":12.61},{"p":1.11,"s":12.24},{"p":1.27,"s":12.73},{"p":1.43,"s":13.04},{"p":1.62,"s":12.92},{"p":1.83,"s":13.03},{"p":2.04,"s":12.87},{"p":2.21,"s":13.01},{"p":2.43,"s":12.89},{"p":2.64,"s":12.81},{"p":2.87,"s":12.71},{"p":3.04,"s":12.47},{"p":3.21,"s":12.21},{"p":3.34,"s":11.71},{"p":3.24,"s":11.54},{"p":3.03,"s":10.93},{"p":2.83,"s":10.74},{"p":2.61,"s":10.2},{"p":2.32,"s":9.93},{"p":2.03,"s":9.71},{"p":1.73,"s":9.68},{"p":1.33,"s":9.62},{"p":1.02,"s":9.51},{"p":0.74,"s":9.54},{"p":0.53,"s":9.46},{"p":0.27,"s":9.61},{"p":0.03,"s":9.62},{"p":0.93,"s":9.13},{"p":1.12,"s":8.82},{"p":1.04,"s":8.43},{"p":1.22,"s":8.07},{"p":1.31,"s":7.63},{"p":1.44,"s":7.24},{"p":1.62,"s":6.94},{"p":1.87,"s":6.82},{"p":2.13,"s":6.61},{"p":2.84,"s":6.83},{"p":3.04,"s":7.34},{"p":3.11,"s":7.62},{"p":2.83,"s":7.83},{"p":3.63,"s":8.42},{"p":3.74,"s":8.87},{"p":3.81,"s":9.13},{"p":3.43,"s":9.21},{"p":2.91,"s":9.33},{"p":2.63,"s":9.51},{"p":2.13,"s":9.37}
]},
"layer":[
{"data":{"name":"scatter"},"mark":{"type":"circle","size":5,"opacity":1,"color":"#0a6fbb"},"encoding":{"x":{"field":"p","type":"quantitative","scale":{"domain":[-5,15],"nice":false},"axis":{"values":[-5,0,5,10,15],"title":"p","grid":false,"domainColor":"#333","domainWidth":1.7,"tickColor":"#333","tickWidth":1.7,"tickSize":-5,"labelFont":"Liberation Serif","labelFontWeight":"bold","labelFontSize":23,"labelColor":"#222","labelPadding":16,"titleFont":"Liberation Serif","titleFontWeight":"bold","titleFontSize":26,"titleColor":"#222","titlePadding":8}},"y":{"field":"s","type":"quantitative","scale":{"domain":[-10,20],"nice":false},"axis":{"values":[-10,-5,0,5,10,15,20],"title":"s","grid":false,"domainColor":"#333","domainWidth":1.7,"tickColor":"#333","tickWidth":1.7,"tickSize":-5,"labelFont":"Liberation Serif","labelFontWeight":"bold","labelFontSize":23,"labelColor":"#222","labelPadding":8,"titleFont":"Liberation Serif","titleFontWeight":"bold","titleFontSize":26,"titleColor":"#222","titlePadding":3}}}},
{"data":{"name":"core"},"mark":{"type":"circle","size":115,"opacity":1,"color":"#0a6fbb"},"encoding":{"x":{"field":"p","type":"quantitative"},"y":{"field":"s","type":"quantitative"}}}
]}
